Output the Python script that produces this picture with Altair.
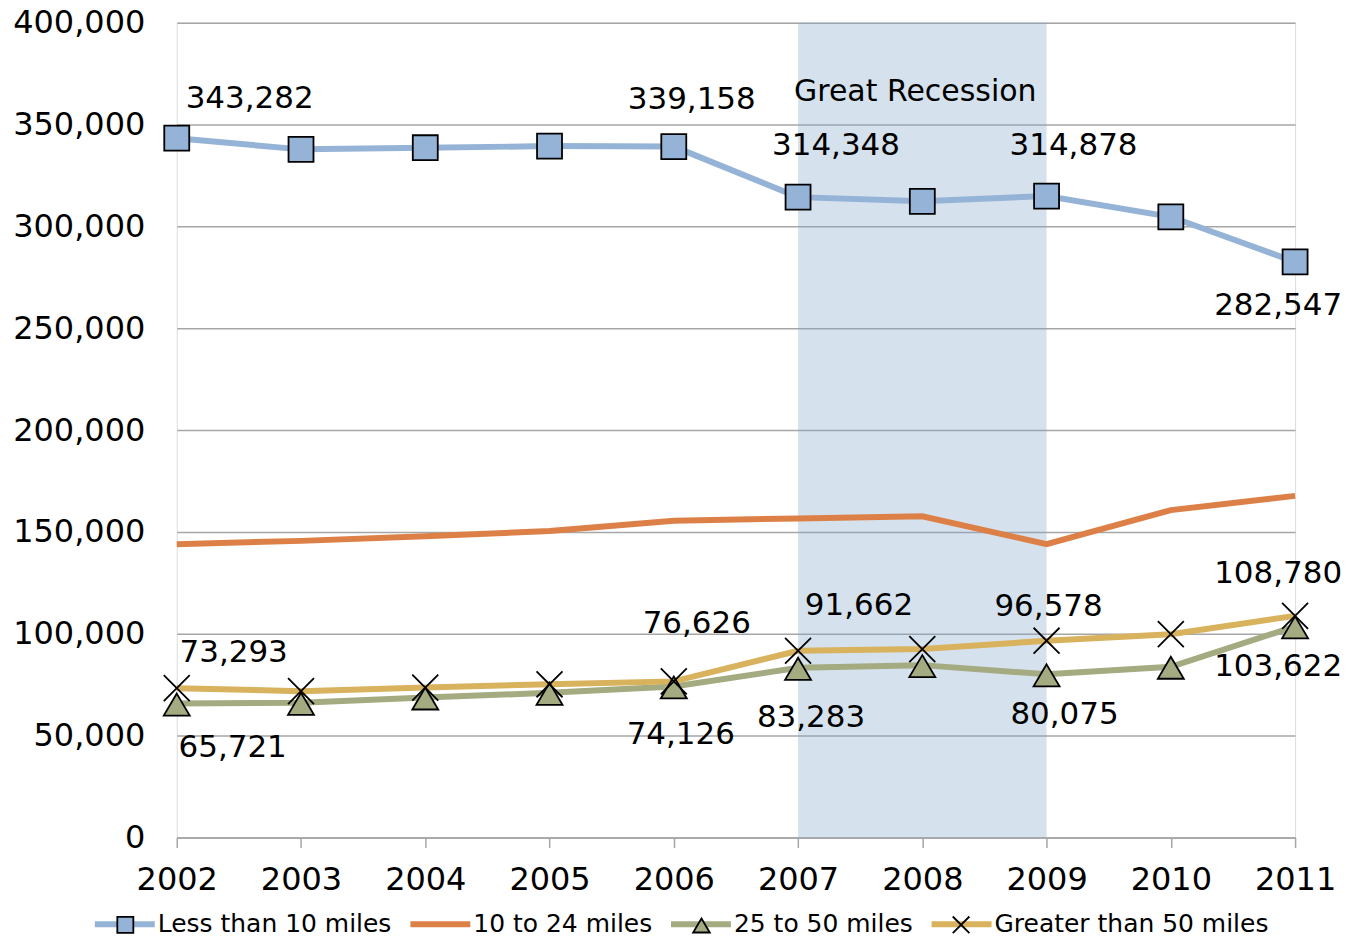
import altair as alt
import pandas as pd

# ---------------- data ----------------
years = [2002, 2003, 2004, 2005, 2006, 2007, 2008, 2009, 2010, 2011]
series_names = ["Less than 10 miles", "10 to 24 miles", "25 to 50 miles", "Greater than 50 miles"]
less_than_10 = [343282, 337800, 338600, 339400, 339158, 314348, 312300, 314878, 304700, 282547]
ten_to_24 = [144000, 145600, 147900, 150400, 155500, 156600, 157700, 144000, 160700, 167700]
twentyfive_to_50 = [65721, 66100, 68700, 71000, 74126, 83283, 84600, 80075, 83800, 103622]
greater_than_50 = [73293, 71800, 73600, 75200, 76626, 91662, 92500, 96578, 99800, 108780]
recession_years = [2007, 2009]
recession_label = "Great Recession"
y_ticks = [0, 50000, 100000, 150000, 200000, 250000, 300000, 350000, 400000]

# labelled points: (series, year)
labelled = [
    ("Less than 10 miles", 2002), ("Less than 10 miles", 2006), ("Less than 10 miles", 2007),
    ("Less than 10 miles", 2009), ("Less than 10 miles", 2011),
    ("Greater than 50 miles", 2002), ("25 to 50 miles", 2002),
    ("Greater than 50 miles", 2006), ("25 to 50 miles", 2006),
    ("Greater than 50 miles", 2007), ("25 to 50 miles", 2007),
    ("Greater than 50 miles", 2009), ("25 to 50 miles", 2009),
    ("Greater than 50 miles", 2011), ("25 to 50 miles", 2011),
]
# label offsets (styling) in pixels, same order as `labelled`
label_offsets = [
    (73, -39), (18, -47), (38, -51), (27, -50), (-17, 44),
    (57, -35), (56, 44),
    (23, -57), (7, 49),
    (61, -45), (13, 50),
    (2, -34), (18, 41),
    (-17, -42), (-17, 41),
]

# ---------------- styling ----------------
colors = ["#95B3D7", "#DD8047", "#A5AB81", "#D8B25C"]
square = "M-0.25,-0.25H0.25V0.25H-0.25Z"
triangle = "M0,-0.2L0.26,0.24L-0.26,0.24Z"
cross = "M-0.26,-0.26L0.26,0.26M-0.26,0.26L0.26,-0.26"
# marker per series (10 to 24 miles has none); legend x offsets for the markers
markers = [
    ("Less than 10 miles", square, colors[0], -85),
    ("25 to 50 miles", triangle, colors[2], 492),
    ("Greater than 50 miles", cross, colors[3], 752),
]
FONT = "DejaVu Sans"
W, H = 1120, 816
LEG_Y = 870

rows = []
for name, vals in zip(series_names, [less_than_10, ten_to_24, twentyfive_to_50, greater_than_50]):
    for yr, v in zip(years, vals):
        rows.append({"year": yr, "value": v, "series": name})
df = pd.DataFrame(rows)

rec = pd.DataFrame({"start": [recession_years[0]], "end": [recession_years[1]],
                    "lo": [y_ticks[0]], "hi": [y_ticks[-1]],
                    "mid": [sum(recession_years) / 2], "label": [recession_label]})

xscale = alt.Scale(domain=[years[0], years[-1]], nice=False, zero=False)
yscale = alt.Scale(domain=[y_ticks[0], y_ticks[-1]], nice=False)

x_axis = alt.Axis(values=years, labelExpr="format(datum.value, 'd')", title=None, grid=False,
                  labelFontSize=32, labelFont=FONT, labelColor="black",
                  tickSize=10, tickColor="#A6A6A6", tickWidth=1.5,
                  domainColor="#A6A6A6", domainWidth=1.5, labelPadding=17,
                  labelFlush=False, labelOverlap=False)
y_axis = alt.Axis(values=y_ticks, labelExpr="format(datum.value, ',')", title=None, grid=True,
                  gridColor="#A6A6A6", gridWidth=1.5, ticks=False, domain=False,
                  labelFontSize=32, labelFont=FONT, labelColor="black",
                  labelPadding=32, labelFlush=False, labelOverlap=False)

X = alt.X("year:Q", scale=xscale, axis=x_axis)
Y = alt.Y("value:Q", scale=yscale, axis=y_axis)

shade = alt.Chart(rec).mark_rect(color="#7FA6C8", opacity=0.33).encode(
    x=alt.X("start:Q", scale=xscale, axis=x_axis), x2="end",
    y=alt.Y("lo:Q", scale=yscale, axis=y_axis), y2="hi")

shade_text = alt.Chart(rec).mark_text(fontSize=30, font=FONT, color="black", dx=-7,
                                      align="center", baseline="middle").encode(
    x=alt.X("mid:Q", scale=xscale, axis=x_axis), y=alt.value(69), text="label:N")

lines = alt.Chart(df).mark_line(strokeWidth=6).encode(
    x=X, y=Y,
    stroke=alt.Stroke("series:N", scale=alt.Scale(domain=series_names, range=colors),
                      sort=series_names,
                      legend=alt.Legend(title=None, orient="none", legendX=-85, legendY=LEG_Y,
                                        direction="horizontal", labelFontSize=25, labelFont=FONT,
                                        labelColor="black", labelOffset=0, columnPadding=6,
                                        padding=0, labelLimit=500,
                                        symbolType="stroke", symbolSize=3600,
                                        symbolStrokeWidth=6)))

point_layers = []
for name, path, color, lx in markers:
    point_layers.append(
        alt.Chart(df).transform_filter(alt.datum.series == name).mark_point(
            filled=True, fill=color, stroke="black", strokeWidth=1.8, opacity=1, size=10000
        ).encode(
            x=X, y=Y,
            shape=alt.Shape("series:N", scale=alt.Scale(domain=[name], range=[path]),
                            legend=alt.Legend(title=None, orient="none", legendX=lx,
                                              legendY=LEG_Y, labelExpr="''", labelFontSize=25,
                                              padding=0, symbolSize=4122,
                                              symbolStrokeWidth=1.8, symbolOpacity=1)))
    )

texts = []
for (s, yr), (dx, dy) in zip(labelled, label_offsets):
    texts.append(
        alt.Chart(df).transform_filter(
            (alt.datum.series == s) & (alt.datum.year == yr)
        ).mark_text(fontSize=31, font=FONT, color="black", dx=dx, dy=dy,
                    align="center", baseline="middle").encode(
            x=X, y=Y, text=alt.Text("value:Q", format=","))
    )

chart = alt.layer(shade, shade_text, lines, *point_layers, *texts).resolve_scale(
    shape="independent"
).resolve_legend(
    stroke="independent", shape="independent"
).properties(
    width=W, height=H,
    autosize=alt.AutoSizeParams(type="none"),
    padding={"left": 169, "top": 14, "right": 60, "bottom": 100},
).configure_view(strokeWidth=0, stroke="transparent").configure(font=FONT)

chart.save("out.html", embed_options={"renderer": "svg", "actions": False})
